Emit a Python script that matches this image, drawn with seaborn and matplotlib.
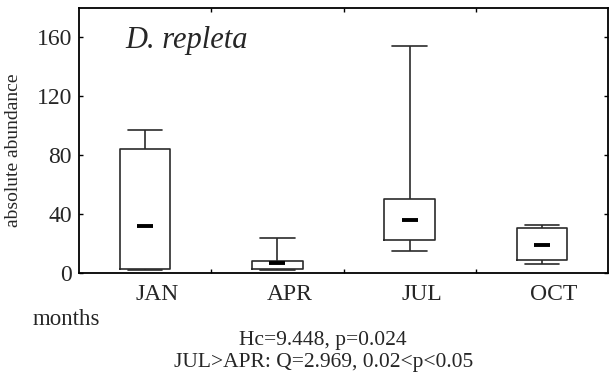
import numpy as np
import pandas as pd
import matplotlib
matplotlib.use("Agg")
import matplotlib.pyplot as plt
import seaborn as sns

# Five-number summaries per month: min, Q1, median, Q3, max
months = ["JAN", "APR", "JUL", "OCT"]
jan = [2, 3, 31.7, 84.3, 97]
apr = [2, 3, 7, 8.4, 23.8]
jul = [15, 22.4, 36.3, 50.6, 154]
octo = [5.9, 8.6, 18.8, 30.9, 32.6]
yticks = [0, 40, 80, 120, 160]

df = pd.DataFrame({
    "month": np.repeat(months, 5),
    "value": jan + apr + jul + octo,
})

sns.set_style("ticks")
plt.rcParams["font.family"] = ["Liberation Serif", "DejaVu Serif"]

fig = plt.figure(figsize=(6.1, 3.75), dpi=100)
ax = fig.add_axes([79 / 610, 1 - 273 / 375, 529 / 610, 265 / 375])

box_color = "#2b2b2b"
sns.boxplot(
    data=df, x="month", y="value", order=months,
    fill=False, color=box_color, width=0.38, whis=(0, 100),
    linewidth=1.2, medianprops={"visible": False}, capwidths=0.26, ax=ax,
)

# Median drawn as a short thick dash
meds = df.groupby("month", sort=False)["value"].median().reindex(months)
ax.plot(np.arange(len(months)), meds.values, ls="none", marker="_",
        ms=12, mew=2.8, color="black", zorder=5)

ax.set_xlim(-0.5, len(months) - 0.5)
ax.set_ylim(0, 180)
ax.set_yticks(yticks)
ax.set_yticklabels([str(v) for v in yticks], fontsize=17)
ax.set_xticks(np.arange(len(months) - 1) + 0.5)
ax.set_xticklabels([])
ax.set_xticks(np.arange(len(months)) + 0.09, minor=True)
ax.set_xticklabels(months, minor=True, fontsize=17)
ax.tick_params(axis="x", which="minor", length=0, pad=8)
ax.tick_params(axis="both", which="major", direction="in", length=3,
               width=1, top=True, right=True, color="black")
ax.tick_params(axis="y", pad=5)
ax.set_xlabel("")
ax.set_ylabel("")
for s in ax.spines.values():
    s.set_visible(True)
    s.set_linewidth(1.3)
    s.set_color("black")

fig.text(125 / 610, 1 - 48 / 375, "D. repleta", style="italic",
         fontsize=22, ha="left", va="baseline")
fig.text(13.5 / 610, 1 - 150 / 375, "absolute abundance", rotation=90,
         fontsize=14, ha="center", va="center")
fig.text(33 / 610, 1 - 325 / 375, "months", fontsize=16.5,
         ha="left", va="baseline")
fig.text(323 / 610, 1 - 345 / 375, "Hc=9.448, p=0.024", fontsize=15.5,
         ha="center", va="baseline")
fig.text(324 / 610, 1 - 367 / 375, "JUL>APR: Q=2.969, 0.02<p<0.05",
         fontsize=15.5, ha="center", va="baseline")

fig.savefig("out.png", dpi=100)
